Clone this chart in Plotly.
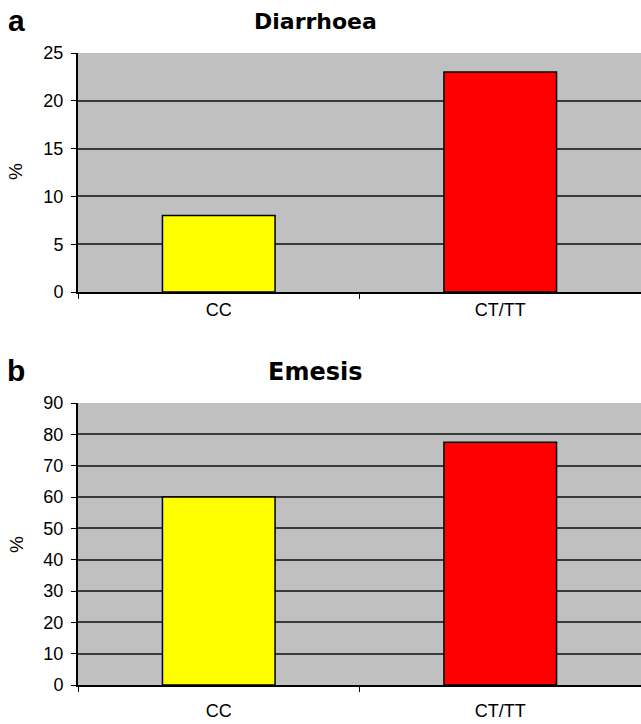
import plotly.graph_objects as go
from plotly.subplots import make_subplots

categories = ["CC", "CT/TT"]
diarrhoea = [8, 23]
emesis = [60, 77.5]
bar_colors = ["#FFFF00", "#FF0000"]
titles = ["Diarrhoea", "Emesis"]
panel_letters = ["a", "b"]

W, H = 641, 724
fig = make_subplots(rows=2, cols=1)
fig.add_trace(go.Bar(x=categories, y=diarrhoea, marker=dict(color=bar_colors, line=dict(color="black", width=1.5)), width=0.4, showlegend=False), row=1, col=1)
fig.add_trace(go.Bar(x=categories, y=emesis, marker=dict(color=bar_colors, line=dict(color="black", width=1.5)), width=0.4, showlegend=False), row=2, col=1)

font = "Liberation Sans, Arial, sans-serif"
tfont = "DejaVu Sans, Liberation Sans, sans-serif"
xdom = [78 / W, 1.0]
ydoms = [[1 - 292 / H, 1 - 53 / H], [1 - 685 / H, 1 - 403 / H]]

axis_common = dict(showline=True, linecolor="black", linewidth=2, ticks="outside", ticklen=5,
                   tickcolor="black", automargin=False,
                   tickfont=dict(family=font, size=18, color="black"))
fig.update_layout(
    xaxis=dict(domain=xdom, anchor="y", tickson="boundaries", showgrid=False, ticklabelstandoff=0, **axis_common),
    xaxis2=dict(domain=xdom, anchor="y2", tickson="boundaries", showgrid=False, ticklabelstandoff=8, **axis_common),
    yaxis=dict(domain=ydoms[0], anchor="x", range=[0, 25], dtick=5, showgrid=True, gridcolor="#3a3a3a", gridwidth=1.5, zeroline=False, ticklabelstandoff=4, **axis_common),
    yaxis2=dict(domain=ydoms[1], anchor="x2", range=[0, 90], dtick=10, showgrid=True, gridcolor="#3a3a3a", gridwidth=1.5, zeroline=False, ticklabelstandoff=4, **axis_common),
    plot_bgcolor="#C0C0C0",
    paper_bgcolor="white",
    width=W, height=H,
    margin=dict(l=0, r=0, t=0, b=0, autoexpand=False),
)

annots = [
    dict(text="<b>%s</b>" % titles[0], x=315 / W, y=1 - 21 / H, font=dict(size=22, family=tfont)),
    dict(text="<b>%s</b>" % titles[1], x=315 / W, y=1 - 372 / H, font=dict(size=24, family=tfont)),
    dict(text="<b>%s</b>" % panel_letters[0], x=16 / W, y=1 - 20 / H, font=dict(size=30)),
    dict(text="<b>%s</b>" % panel_letters[1], x=16 / W, y=1 - 370 / H, font=dict(size=30)),
    dict(text="%", x=16 / W, y=1 - 172 / H, textangle=-90, font=dict(size=19)),
    dict(text="%", x=16 / W, y=1 - 545 / H, textangle=-90, font=dict(size=19)),
]
for a in annots:
    f = dict(family=font, color="black")
    f.update(a.pop("font"))
    fig.add_annotation(xref="paper", yref="paper", showarrow=False, xanchor="center", yanchor="middle", font=f, **a)

fig.write_html("out.html", config={"displayModeBar": False},
               post_script="document.body.style.margin='0';document.body.style.overflow='hidden';")
